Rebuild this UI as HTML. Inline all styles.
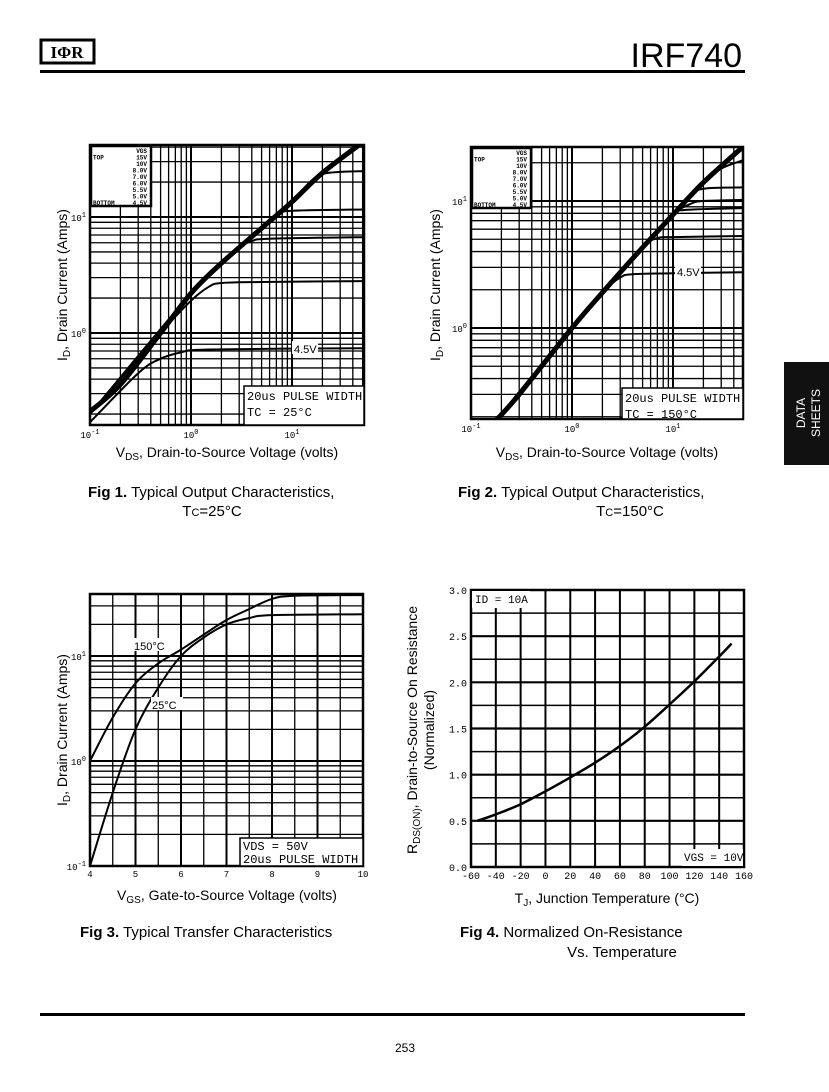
<!DOCTYPE html>
<html><head><meta charset="utf-8">
<style>
body{margin:0;background:#fff;width:829px;height:1092px;overflow:hidden;font-family:"Liberation Sans",sans-serif;}
svg{position:absolute;left:0;top:0}
</style></head>
<body>
<svg id="pg" width="829" height="1092" viewBox="0 0 829 1092">
<g>
 <rect x="41" y="40" width="53" height="23" fill="none" stroke="#000" stroke-width="3"/>
 <text x="67" y="58" font-size="17" font-weight="bold" text-anchor="middle" font-family="Liberation Serif,serif">IΦR</text>
 <text x="742" y="67" font-size="34" text-anchor="end">IRF740</text>
 <rect x="40" y="70" width="705" height="3" fill="#000"/>
</g>
<g>
 <rect x="784" y="362" width="45" height="103" fill="#111"/>
 <text transform="translate(805,413) rotate(-90)" font-size="12" fill="#fff" text-anchor="middle">DATA</text>
 <text transform="translate(820,413) rotate(-90)" font-size="12" fill="#fff" text-anchor="middle">SHEETS</text>
</g>
<g id="f1"></g>
<g id="f2"></g>
<g id="f3"></g>
<g id="f4"></g>
<g font-size="14">
 <text x="227" y="457" text-anchor="middle">V<tspan font-size="10" dy="3">DS</tspan><tspan dy="-3">, Drain-to-Source Voltage (volts)</tspan></text>
 <text transform="translate(67,285) rotate(-90)" text-anchor="middle">I<tspan font-size="10" dy="3">D</tspan><tspan dy="-3">, Drain Current (Amps)</tspan></text>
 <text x="88" y="497" font-size="15"><tspan font-weight="bold">Fig 1.</tspan>  Typical Output Characteristics,</text>
 <text x="212" y="516" font-size="15" text-anchor="middle">T<tspan font-size="11">C</tspan>=25°C</text>
 <text x="607" y="457" text-anchor="middle">V<tspan font-size="10" dy="3">DS</tspan><tspan dy="-3">, Drain-to-Source Voltage (volts)</tspan></text>
 <text transform="translate(440,285) rotate(-90)" text-anchor="middle">I<tspan font-size="10" dy="3">D</tspan><tspan dy="-3">, Drain Current (Amps)</tspan></text>
 <text x="458" y="497" font-size="15"><tspan font-weight="bold">Fig 2.</tspan>  Typical Output Characteristics,</text>
 <text x="630" y="516" font-size="15" text-anchor="middle">T<tspan font-size="11">C</tspan>=150°C</text>
 <text x="227" y="900" text-anchor="middle">V<tspan font-size="10" dy="3">GS</tspan><tspan dy="-3">, Gate-to-Source Voltage (volts)</tspan></text>
 <text transform="translate(67,730) rotate(-90)" text-anchor="middle">I<tspan font-size="10" dy="3">D</tspan><tspan dy="-3">, Drain Current (Amps)</tspan></text>
 <text x="80" y="937" font-size="15"><tspan font-weight="bold">Fig 3.</tspan>  Typical Transfer Characteristics</text>
 <text x="607" y="903" text-anchor="middle">T<tspan font-size="10" dy="3">J</tspan><tspan dy="-3">, Junction Temperature (°C)</tspan></text>
 <text transform="translate(417,730) rotate(-90)" text-anchor="middle">R<tspan font-size="10" dy="3">DS(ON)</tspan><tspan dy="-3">, Drain-to-Source On Resistance</tspan></text>
 <text transform="translate(434,730) rotate(-90)" text-anchor="middle">(Normalized)</text>
 <text x="460" y="937" font-size="15"><tspan font-weight="bold">Fig 4.</tspan>  Normalized On-Resistance</text>
 <text x="622" y="957" font-size="15" text-anchor="middle">Vs. Temperature</text>
</g>
<rect x="40" y="1013" width="705" height="3" fill="#000"/>
<text x="405" y="1052" font-size="12" text-anchor="middle">253</text>
</svg>
<script>
// ---- Fig 1 data (Tc=25C) ----
const f1Vgs = ["4.5V","5.0V","5.5V","6.0V","7.0V","TOP"];
const f1Vds = [
 [0.1,0.3,0.5,0.8,1.5,50],
 [0.1,0.5,1,1.5,2,5,50],
 [0.1,1,2,3,4,6,50],
 [0.1,1,2,5,7,10,50],
 [0.1,1,2,5,10,15,20,30,50],
 [0.1,0.2,0.5,1,2,5,10,20,50]];
const f1Id = [
 [0.17,0.45,0.6,0.68,0.72,0.74],
 [0.2,1.0,1.9,2.5,2.7,2.75,2.8],
 [0.2,2.2,4,5.5,6.2,6.5,6.7],
 [0.2,2.2,4,8,10.5,11.3,11.6],
 [0.2,2.2,4,8,13.5,20,23.5,24.5,24.8],
 [0.21,0.36,1.0,2.2,4,8,13.5,24,44]];
// ---- Fig 2 data (Tc=150C) ----
const f2Vgs = ["4.5V","5.0V","5.5V","6.0V","7.0V","8.0V","TOP"];
const f2Vds = [
 [0.18,1,2,3,4,10,50],
 [0.18,1,2,5,7,10,50],
 [0.18,1,5,10,13,50],
 [0.18,1,5,10,15,20,50],
 [0.18,1,5,10,15,20,50],
 [0.18,1,5,10,20,30,50],
 [0.18,0.3,1,2,5,10,20,50]];
const f2Id = [
 [0.19,1.0,1.9,2.5,2.65,2.7,2.75],
 [0.19,1.0,1.9,4.3,5.1,5.2,5.3],
 [0.19,1.0,4.3,7.8,8.5,8.8],
 [0.19,1.0,4.3,7.8,9.5,10,10.2],
 [0.19,1.0,4.3,7.8,11,12.5,12.8],
 [0.19,1.0,4.3,7.8,14,18,21],
 [0.19,0.3,1.0,1.9,4.3,7.8,14,27]];
// ---- Fig 3 data ----
const f3Vgs25 = [4,4.5,5,5.5,6,6.5,7,7.5,8,10];
const f3Id25 = [0.1,0.5,2.0,5,10,15,20,23,24.5,25];
const f3Vgs150 = [4,4.5,5,5.5,6,6.5,7,7.5,8,8.5,10];
const f3Id150 = [1.0,2.6,5.5,8.5,11.5,16,22,28,35,37.5,38];
// ---- Fig 4 data ----
const f4Temp = [-55,-40,-20,0,20,40,60,80,100,120,140,150];
const f4Rds = [0.5,0.57,0.68,0.82,0.97,1.13,1.31,1.52,1.76,2.01,2.28,2.42];
const f4XTicks = [-60,-40,-20,0,20,40,60,80,100,120,140,160];
const f4YTicks = ["0.0","0.5","1.0","1.5","2.0","2.5","3.0"];
const f3XTicks = [4,5,6,7,8,9,10];

const NS="http://www.w3.org/2000/svg";
function mk(p,t,a){const e=document.createElementNS(NS,t);for(const k in a)e.setAttribute(k,a[k]);p.appendChild(e);return e;}
function logAx(d0,p0,dec){return v=>p0-(Math.log10(v)-d0)*dec;}
function logAxX(d0,p0,dec){return v=>p0+(Math.log10(v)-d0)*dec;}
function line(g,x1,y1,x2,y2,w){const l=mk(g,'line',{x1,y1,x2,y2,stroke:'#000','stroke-width':w});return l;}
function tickTxt(g,x,y,base,exp,anchor){const t=mk(g,'text',{x,y,'font-size':9,'font-family':'Liberation Mono,monospace','text-anchor':anchor||'middle'});t.textContent=base;const s=mk(t,'tspan',{dy:-4,'font-size':7});s.textContent=exp;return t;}
function smooth(P){
 let d='M'+P[0][0].toFixed(1)+','+P[0][1].toFixed(1);
 for(let i=0;i<P.length-1;i++){
  const p0=P[i-1]||P[i],p1=P[i],p2=P[i+1],p3=P[i+2]||P[i+1];
  const c1x=p1[0]+(p2[0]-p0[0])/6,c1y=p1[1]+(p2[1]-p0[1])/6;
  const c2x=p2[0]-(p3[0]-p1[0])/6,c2y=p2[1]-(p3[1]-p1[1])/6;
  d+=' C'+c1x.toFixed(1)+','+c1y.toFixed(1)+' '+c2x.toFixed(1)+','+c2y.toFixed(1)+' '+p2[0].toFixed(1)+','+p2[1].toFixed(1);
 }
 return d;
}

function logPlot(id,L,R,T,B,xs,ys,xd,yd,vds,ids,lbl,lgd,ann,ann2){
 const g=document.getElementById(id);
 const X=logAxX(-1,L,xd), Y=logAx(ys[0],ys[1],yd);
 const grid=mk(g,'g',{});
 
 
 for(let e=-1;e<=2;e++)for(let m=1;m<10;m++){const v=m*Math.pow(10,e);const x=X(v);if(x>L&&x<R)line(grid,x,T,x,B,m==1?2:1.3);}
 for(let e=-1;e<=2;e++)for(let m=1;m<10;m++){const v=m*Math.pow(10,e);const y=Y(v);if(y>T&&y<B)line(grid,L,y,R,y,m==1?2:1.3);}
 const cp=id+'clip';const cl=mk(g,'clipPath',{id:cp});mk(cl,'rect',{x:L,y:T,width:R-L,height:B-T});
 const cg=mk(g,'g',{'clip-path':'url(#'+cp+')'});
 vds.forEach((xsA,i)=>{
  const P=xsA.map((v,j)=>[X(v),Y(ids[i][j])]);
  const p=mk(cg,'path',{d:smooth(P),fill:'none',stroke:'#000','stroke-width':i==vds.length-1?5:2,'stroke-linejoin':'round'});
  
  
 });
 const fr=mk(g,'rect',{x:L,y:T,width:R-L,height:B-T,fill:'none',stroke:'#000','stroke-width':2.5});
 
 
 [[-1,'-1'],[0,'0'],[1,'1']].forEach(t=>{const x=L+(t[0]+1)*xd;const tt=tickTxt(g,x,B+13,'10',t[1]);});
 [[0,'0'],[1,'1']].forEach(t=>{const tt=tickTxt(g,L-4,Y(Math.pow(10,t[0]))+4,'10',t[1],'end');});
 const lg=mk(g,'g',{});
 
 
 mk(lg,'rect',{x:L+1,y:T+1,width:lgd,height:60,fill:'#fff',stroke:'#000','stroke-width':2.5});
 const lt=['VGS','15V','10V','8.0V','7.0V','6.0V','5.5V','5.0V','4.5V'];
 lt.forEach((s,i)=>{const t=mk(lg,'text',{x:L+lgd-3,y:T+8+i*6.5,'font-size':6,'font-weight':'bold','text-anchor':'end','font-family':'Liberation Mono,monospace'});t.textContent=s;});
 let t=mk(lg,'text',{x:L+3,y:T+14.5,'font-size':6,'font-weight':'bold','font-family':'Liberation Mono,monospace'});t.textContent='TOP';
 t=mk(lg,'text',{x:L+3,y:T+60,'font-size':6,'font-weight':'bold','font-family':'Liberation Mono,monospace'});t.textContent='BOTTOM';
 const a=mk(g,'g',{});
 
 
 mk(a,'rect',{x:ann[0]-2,y:ann[1]-8,width:26,height:13,fill:'#fff'});
 t=mk(a,'text',{x:ann[0],y:ann[1]+4,'font-size':11});t.textContent='4.5V';
 const pb=mk(g,'g',{});
 
 
 mk(pb,'rect',{x:ann2[0],y:ann2[1],width:R-ann2[0],height:B-ann2[1],fill:'#fff',stroke:'#000','stroke-width':1.5});
 t=mk(pb,'text',{x:ann2[0]+3,y:ann2[1]+14,'font-size':12,'font-family':'Liberation Mono,monospace'});t.textContent='20us PULSE WIDTH';
 t=mk(pb,'text',{x:ann2[0]+3,y:ann2[1]+30,'font-size':12,'font-family':'Liberation Mono,monospace'});t.textContent=ann2[2];
}
logPlot('f1',90,364,145,425,null,[1,217],101,116,f1Vds,f1Id,f1Vgs,60,[294,349],[244,386,'TC = 25°C']);
logPlot('f2',471,743,147,419,null,[1,201],101,127,f2Vds,f2Id,f2Vgs,59,[677,272],[622,388,'TC = 150°C']);

(function(){
 const g=document.getElementById('f3');const L=90,R=363,T=594,B=866;
 const X=v=>L+(v-4)*(R-L)/6, Y=logAx(0,761,105);
 const grid=mk(g,'g',{});
 
 
 for(let v=4.5;v<10;v+=0.5)line(grid,X(v),T,X(v),B,v%1==0?2:1.3);
 for(let e=-1;e<=1;e++)for(let m=1;m<10;m++){const y=Y(m*Math.pow(10,e));if(y>T&&y<B)line(grid,L,y,R,y,m==1?2:1.3);}
 const cl=mk(g,'clipPath',{id:'f3c'});mk(cl,'rect',{x:L,y:T,width:R-L,height:B-T});
 const cg=mk(g,'g',{'clip-path':'url(#f3c)'});
 let p=mk(cg,'path',{d:smooth(f3Vgs25.map((v,i)=>[X(v),Y(f3Id25[i])])),fill:'none',stroke:'#000','stroke-width':2});
 
 
 p=mk(cg,'path',{d:smooth(f3Vgs150.map((v,i)=>[X(v),Y(f3Id150[i])])),fill:'none',stroke:'#000','stroke-width':2});
 
 
 mk(g,'rect',{x:L,y:T,width:R-L,height:B-T,fill:'none',stroke:'#000','stroke-width':2.5});
 f3XTicks.forEach(v=>{const t=mk(g,'text',{x:X(v),y:B+11,'font-size':9,'text-anchor':'middle','font-family':'Liberation Mono,monospace'});t.textContent=v;
  
  });
 [[1,'1'],[0,'0'],[-1,'-1']].forEach(e=>{const t=tickTxt(g,L-4,Y(Math.pow(10,e[0]))+4,'10',e[1],'end');
  
  });
 mk(g,'rect',{x:133,y:638,width:40,height:13,fill:'#fff'});
 let t=mk(g,'text',{x:134,y:650,'font-size':11});t.textContent='150°C';
 
 
 mk(g,'rect',{x:151,y:697,width:32,height:13,fill:'#fff'});
 t=mk(g,'text',{x:152,y:709,'font-size':11});t.textContent='25°C';
 
 
 const pb=mk(g,'g',{});
 
 
 mk(pb,'rect',{x:240,y:838,width:R-240,height:B-838,fill:'#fff',stroke:'#000','stroke-width':1.5});
 t=mk(pb,'text',{x:243,y:850,'font-size':12,'font-family':'Liberation Mono,monospace'});t.textContent='VDS = 50V';
 t=mk(pb,'text',{x:243,y:863,'font-size':12,'font-family':'Liberation Mono,monospace'});t.textContent='20us PULSE WIDTH';
})();

(function(){
 const g=document.getElementById('f4');const L=471,R=744,T=590,B=867;
 const X=v=>L+(v+60)*(R-L)/220, Y=v=>B-v*(B-T)/3;
 const grid=mk(g,'g',{});
 
 
 f4XTicks.forEach(v=>line(grid,X(v),T,X(v),B,2));
 for(let v=0.25;v<3;v+=0.25)line(grid,L,Y(v),R,Y(v),v%0.5==0?2.2:1.5);
 const p=mk(g,'path',{d:smooth(f4Temp.map((v,i)=>[X(v),Y(f4Rds[i])])),fill:'none',stroke:'#000','stroke-width':2.5});
 
 
 mk(g,'rect',{x:L,y:T,width:R-L,height:B-T,fill:'none',stroke:'#000','stroke-width':2.5});
 f4XTicks.forEach(v=>{const t=mk(g,'text',{x:X(v),y:B+12,'font-size':10,'text-anchor':'middle','font-family':'Liberation Mono,monospace'});t.textContent=v;
  
  });
 f4YTicks.forEach(s=>{const t=mk(g,'text',{x:L-4,y:Y(+s)+4,'font-size':10,'text-anchor':'end','font-family':'Liberation Mono,monospace'});t.textContent=s;
  
  });
 let b=mk(g,'g',{});
 
 
 mk(b,'rect',{x:L+1,y:T+1,width:58,height:17,fill:'#fff'});
 let t=mk(b,'text',{x:L+4,y:T+13,'font-size':11,'font-family':'Liberation Mono,monospace'});t.textContent='ID = 10A';
 b=mk(g,'g',{});
 
 
 mk(b,'rect',{x:682,y:849,width:61,height:17,fill:'#fff'});
 t=mk(b,'text',{x:684,y:861,'font-size':11,'font-family':'Liberation Mono,monospace'});t.textContent='VGS = 10V';
})();
</script>
</body></html>
